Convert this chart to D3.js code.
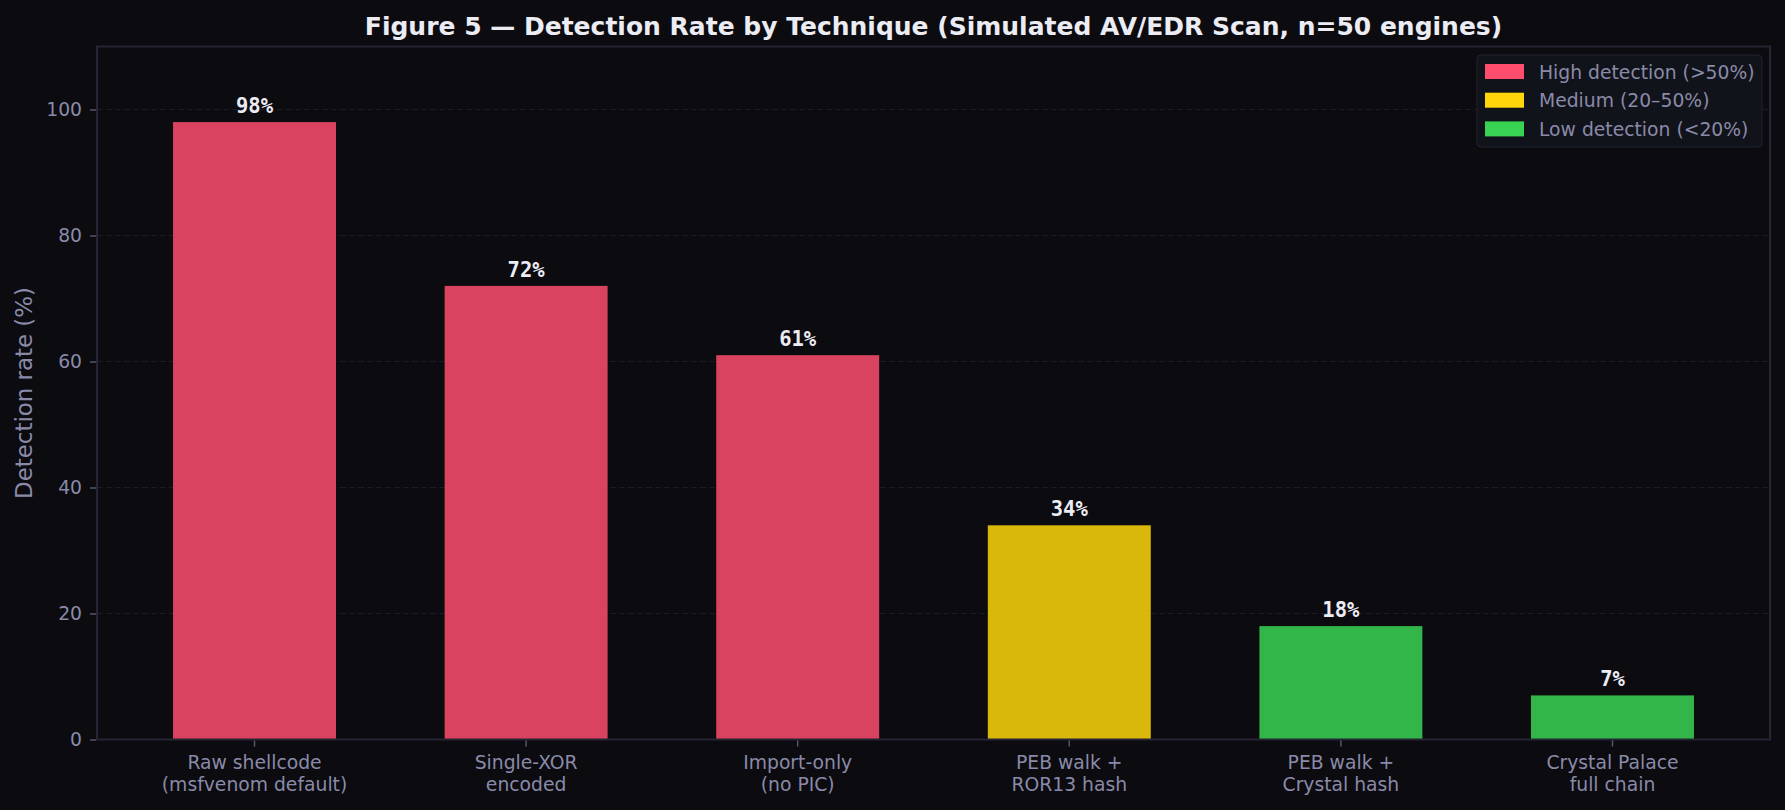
<!DOCTYPE html>
<html>
<head>
<meta charset="utf-8">
<script src="https://cdn.jsdelivr.net/npm/d3@7"></script>
<style>
  html, body { margin: 0; padding: 0; background: #0b0b10; }
  svg { display: block; font-family: "DejaVu Sans", sans-serif; }
</style>
</head>
<body>
<div id="chart"></div>
<script>
// Daten
const techniques = [
  "Raw shellcode\n(msfvenom default)",
  "Single-XOR\nencoded",
  "Import-only\n(no PIC)",
  "PEB walk +\nROR13 hash",
  "PEB walk +\nCrystal hash",
  "Crystal Palace\nfull chain"
];
const detectionRates = [98, 72, 61, 34, 18, 7];
const levels = ["high", "high", "high", "medium", "low", "low"];
const yTicks = [0, 20, 40, 60, 80, 100];
const legendLabels = ["High detection (>50%)", "Medium (20–50%)", "Low detection (<20%)"];
const legendKeys = ["high", "medium", "low"];

const colors = { high: "#ff4d6d", medium: "#ffd60a", low: "#39d353" };

const width = 1785;
const height = 810;
const marginTop = 46.5;
const marginRight = 15;
const marginBottom = 70.5;
const marginLeft = 97;
const font = "DejaVu Sans, sans-serif";

const data = techniques.map((t, i) => ({ name: t, value: detectionRates[i], level: levels[i] }));

const x = d3.scaleBand()
  .domain(techniques)
  .range([marginLeft, width - marginRight])
  .paddingInner(0.4)
  .paddingOuter(0.28);

const y = d3.scaleLinear()
  .domain([0, 110])
  .range([height - marginBottom, marginTop]);

const svg = d3.select("#chart").append("svg")
  .attr("width", width)
  .attr("height", height)
  .attr("viewBox", [0, 0, width, height]);

svg.append("rect")
  .attr("width", width)
  .attr("height", height)
  .attr("fill", "#0b0b10");

// Gitterlinien
svg.append("g")
  .selectAll("line")
  .data(yTicks)
  .join("line")
  .attr("x1", marginLeft)
  .attr("x2", width - marginRight)
  .attr("y1", d => y(d))
  .attr("y2", d => y(d))
  .attr("stroke", "#1b1b26")
  .attr("stroke-width", 1)
  .attr("stroke-dasharray", "6,3");

// Balken
svg.append("g")
  .selectAll("rect")
  .data(data)
  .join("rect")
  .attr("x", d => x(d.name))
  .attr("y", d => y(d.value))
  .attr("width", x.bandwidth())
  .attr("height", d => y(0) - y(d.value))
  .attr("fill", d => colors[d.level])
  .attr("fill-opacity", 0.85);

// Werte über den Balken
svg.append("g")
  .selectAll("text")
  .data(data)
  .join("text")
  .attr("x", d => x(d.name) + x.bandwidth() / 2)
  .attr("y", d => y(d.value) - 9)
  .attr("text-anchor", "middle")
  .attr("font-family", "DejaVu Sans Mono, monospace")
  .attr("font-weight", "bold")
  .attr("font-size", 20.5)
  .attr("fill", "#ececf4")
  .text(d => d.value + "%");

// Rahmen
svg.append("rect")
  .attr("x", marginLeft)
  .attr("y", marginTop)
  .attr("width", width - marginRight - marginLeft)
  .attr("height", height - marginBottom - marginTop)
  .attr("fill", "none")
  .attr("stroke", "#252535")
  .attr("stroke-width", 2);

// X-Achse
const xAxis = svg.append("g")
  .attr("transform", `translate(0,${height - marginBottom + 1})`)
  .call(d3.axisBottom(x).tickSize(6).tickPadding(6).tickFormat(""))
  .call(g => g.select(".domain").remove())
  .call(g => g.selectAll(".tick line").attr("stroke", "#55556e").attr("stroke-width", 1.5));

xAxis.selectAll(".tick").each(function(d) {
  const lines = d.split("\n");
  const t = d3.select(this).append("text")
    .attr("fill", "#8a8aa8")
    .attr("font-family", font)
    .attr("font-size", 18.75)
    .attr("text-anchor", "middle");
  lines.forEach((l, i) => {
    t.append("tspan").attr("x", 0).attr("y", 28 + i * 22.5).text(l);
  });
});

// Y-Achse
svg.append("g")
  .attr("transform", `translate(${marginLeft - 1},0)`)
  .call(d3.axisLeft(y).tickValues(yTicks).tickSize(6).tickPadding(8))
  .call(g => g.select(".domain").remove())
  .call(g => g.selectAll(".tick line").attr("stroke", "#55556e").attr("stroke-width", 1.5))
  .call(g => g.selectAll(".tick text")
    .attr("fill", "#8a8aa8")
    .attr("font-size", 18.75)
    .attr("font-family", font));

// Y-Achsentitel
svg.append("text")
  .attr("transform", `translate(32,${(marginTop + height - marginBottom) / 2}) rotate(-90)`)
  .attr("text-anchor", "middle")
  .attr("fill", "#8a8aa8")
  .attr("font-family", font)
  .attr("font-size", 22.9)
  .text("Detection rate (%)");

// Titel
svg.append("text")
  .attr("x", (marginLeft + width - marginRight) / 2)
  .attr("y", 35)
  .attr("text-anchor", "middle")
  .attr("fill", "#ececf4")
  .attr("font-family", font)
  .attr("font-weight", "bold")
  .attr("font-size", 25)
  .text("Figure 5 — Detection Rate by Technique (Simulated AV/EDR Scan, n=50 engines)");

// Legende
const legend = svg.append("g").attr("transform", "translate(1477,55)");
legend.append("rect")
  .attr("width", 285)
  .attr("height", 92)
  .attr("rx", 4)
  .attr("fill", "#11131a")
  .attr("stroke", "#23232f")
  .attr("stroke-width", 1);

const items = legend.selectAll("g.item")
  .data(legendKeys)
  .join("g")
  .attr("class", "item")
  .attr("transform", (d, i) => `translate(8,${9 + i * 28.7})`);

items.append("rect")
  .attr("width", 39)
  .attr("height", 15)
  .attr("fill", d => colors[d]);

items.append("text")
  .attr("x", 54)
  .attr("y", 14.5)
  .attr("fill", "#8a8aa8")
  .attr("font-family", font)
  .attr("font-size", 18.75)
  .text((d, i) => legendLabels[i]);
</script>
</body>
</html>
